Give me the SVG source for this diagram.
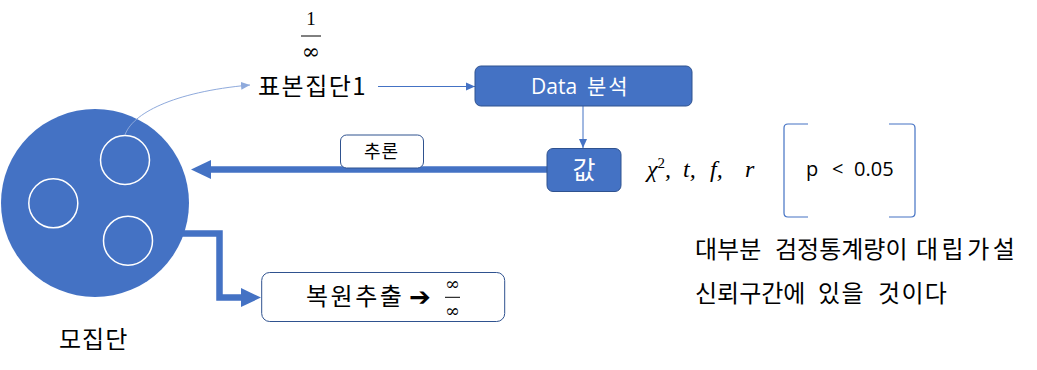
<svg xmlns="http://www.w3.org/2000/svg" width="1037" height="370" viewBox="0 0 1037 370">
<defs>
<style>
.kr{font-family:"Noto Sans CJK KR","Noto Sans",sans-serif;fill:#000}
.wt{font-family:"Open Sans","Noto Sans CJK KR",sans-serif;fill:#fff}
.math{font-family:"DejaVu Serif","Liberation Serif",serif;fill:#000}
.box{fill:#4472C4;stroke:#2F528F;stroke-width:1}
.wbox{fill:#fff;stroke:#2F528F;stroke-width:1}
.thin{fill:none;stroke:#4472C4;stroke-width:1}
.thick{fill:none;stroke:#4472C4}
</style>
<marker id="ah" markerUnits="userSpaceOnUse" markerWidth="10" markerHeight="10" refX="9" refY="5" orient="auto">
<path d="M0,1 L9,5 L0,9 Z" fill="#4472C4"/>
</marker>
<marker id="ahl" markerUnits="userSpaceOnUse" markerWidth="10" markerHeight="10" refX="9" refY="5" orient="auto">
<path d="M0,1 L9,5 L0,9 Z" fill="#8FAADC"/>
</marker>
</defs>
<rect width="1037" height="370" fill="#fff"/>

<g id="population">
<circle cx="95" cy="203" r="94" fill="#4472C4"/>
<circle cx="125" cy="160" r="24.5" fill="none" stroke="#fff" stroke-width="1.5"/>
<circle cx="53.3" cy="203.3" r="24.5" fill="none" stroke="#fff" stroke-width="1.5"/>
<circle cx="128" cy="240.7" r="24.5" fill="none" stroke="#fff" stroke-width="1.5"/>
<text x="59" y="348" class="kr" font-size="24" letter-spacing="1">모집단</text>
</g>

<g id="connectors">
<path d="M125,135 C132,114 172,92 250,85" fill="none" stroke="#8FAADC" stroke-width="1" marker-end="url(#ahl)"/>
<line x1="378" y1="86.5" x2="475" y2="86.5" class="thin" marker-end="url(#ah)"/>
<line x1="583" y1="106" x2="583" y2="148" class="thin" marker-end="url(#ah)"/>
<line x1="547" y1="169.5" x2="209" y2="169.5" class="thick" stroke-width="6.5"/>
<polygon points="191,169.5 211,160 211,179" fill="#4472C4"/>
<polyline points="180,233.5 219.5,233.5 219.5,297.5 243,297.5" class="thick" stroke-width="6.5"/>
<polygon points="261,297.5 241,288 241,307" fill="#4472C4"/>
</g>

<g id="fraction-top">
<text x="311" y="25" font-family="Liberation Serif,serif" font-size="19" text-anchor="middle">1</text>
<line x1="301" y1="36" x2="321" y2="36" stroke="#000" stroke-width="1"/>
<text x="311" y="59" class="math" font-size="22" text-anchor="middle">∞</text>
</g>

<g id="sample">
<text x="258" y="95" class="kr" font-size="24" letter-spacing="1.5">표본집단1</text>
</g>

<g id="data-analysis">
<rect x="475" y="66" width="217" height="40" rx="6" class="box"/>
<text y="94" class="wt" font-size="21"><tspan x="531">Data</tspan><tspan x="587" font-family="Noto Sans CJK KR,sans-serif" letter-spacing="2">분석</tspan></text>
</g>

<g id="value">
<rect x="547" y="148.5" width="74" height="43" rx="6" class="box"/>
<text x="584" y="179" font-family="Noto Sans CJK KR,sans-serif" fill="#fff" font-size="25" text-anchor="middle">값</text>
</g>

<g id="inference-label">
<rect x="340.5" y="135" width="83" height="33" rx="6" class="wbox"/>
<text x="381.5" y="157.5" class="kr" font-size="18" letter-spacing="1" text-anchor="middle">추론</text>
</g>

<g id="resampling">
<rect x="261.7" y="272.5" width="243" height="49" rx="8" class="wbox"/>
<text x="306" y="305" class="kr" font-size="24" letter-spacing="2.5">복원추출</text>
<text x="409" y="306" font-family="DejaVu Sans,sans-serif" font-size="26" fill="#000">➔</text>
<text x="452.5" y="290" class="math" font-size="18" text-anchor="middle">∞</text>
<line x1="445" y1="297.3" x2="460" y2="297.3" stroke="#000" stroke-width="1"/>
<text x="452.5" y="316.5" class="math" font-size="18" text-anchor="middle">∞</text>
</g>

<g id="statistics">
<text font-family="Liberation Serif,serif" font-size="24" font-style="italic" y="177" fill="#000"><tspan x="647">χ</tspan><tspan font-size="15" dy="-9" font-style="normal">2</tspan><tspan dy="9">,</tspan><tspan x="683">t,</tspan><tspan x="710">f,</tspan><tspan x="745">r</tspan></text>
</g>

<g id="pvalue">
<path d="M808,124 L788,124 Q784,124 784,128 L784,213 Q784,217 788,217 L808,217" fill="none" stroke="#4472C4" stroke-width="1.2"/>
<path d="M889,124 L911,124 Q915,124 915,128 L915,213 Q915,217 911,217 L889,217" fill="none" stroke="#4472C4" stroke-width="1.2"/>
<text y="176" font-family="Open Sans,Noto Sans,sans-serif" font-size="20" fill="#000"><tspan x="806">p</tspan><tspan x="832">&lt;</tspan><tspan x="854">0.05</tspan></text>
</g>

<g id="conclusion">
<text y="258" class="kr" font-size="24"><tspan x="695">대부분</tspan><tspan x="775">검정통계량이</tspan><tspan x="916" letter-spacing="3.5">대립가설</tspan></text>
<text y="302" class="kr" font-size="24"><tspan x="695">신뢰구간에</tspan><tspan x="818" letter-spacing="1.3">있을</tspan><tspan x="878" letter-spacing="1.3">것이다</tspan></text>
</g>
</svg>
